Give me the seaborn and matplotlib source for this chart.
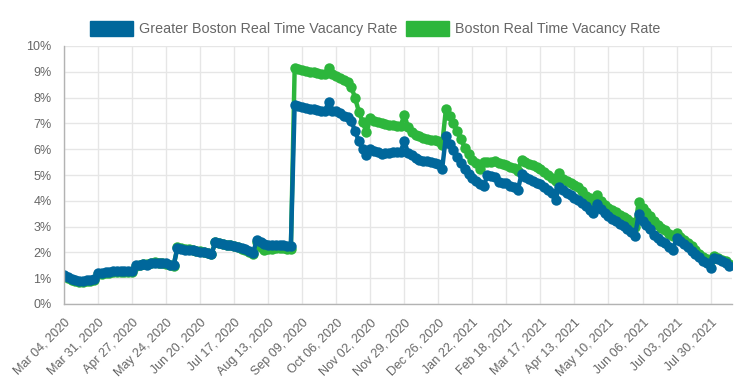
"""
Greater Boston vs Boston real time vacancy rate, Mar 2020 - Aug 2021.
"""

import matplotlib
matplotlib.use("Agg")
import matplotlib.pyplot as plt
from matplotlib.patches import Patch
from matplotlib.ticker import FuncFormatter
import pandas as pd
import seaborn as sns

# Readings every 3 days starting Mar 04, 2020 (percent)
START_DATE = "2020-03-04"
STEP = "3D"

greater_boston = [
    1.12, 1.05, 0.98, 0.94, 0.90, 0.90, 0.92, 0.94, 0.95,
    1.22, 1.22, 1.24, 1.25, 1.27, 1.28, 1.28, 1.27, 1.27,
    1.26, 1.50, 1.52, 1.55, 1.52, 1.57, 1.60, 1.60, 1.58,
    1.57, 1.53, 1.52, 2.16, 2.12, 2.10, 2.10, 2.08, 2.05,
    2.03, 2.00, 1.97, 1.92, 2.40, 2.36, 2.33, 2.30, 2.28,
    2.25, 2.22, 2.18, 2.12, 2.07, 1.98, 2.48, 2.40, 2.32,
    2.28, 2.30, 2.30, 2.28, 2.27, 2.26, 2.24, 7.72, 7.68,
    7.65, 7.60, 7.57, 7.55, 7.53, 7.50, 7.47, 7.84, 7.50,
    7.47, 7.40, 7.30, 7.25, 7.08, 6.70, 6.30, 6.00, 5.78,
    6.00, 5.92, 5.88, 5.82, 5.84, 5.86, 5.88, 5.90, 5.88,
    6.32, 5.85, 5.78, 5.65, 5.58, 5.55, 5.53, 5.52, 5.48,
    5.42, 5.22, 6.50, 6.20, 5.95, 5.70, 5.45, 5.22, 5.05,
    4.90, 4.78, 4.65, 4.57, 5.00, 4.97, 4.92, 4.72, 4.68,
    4.68, 4.58, 4.52, 4.40, 5.04, 4.92, 4.83, 4.75, 4.70,
    4.65, 4.52, 4.42, 4.32, 4.05, 4.55, 4.42, 4.32, 4.23,
    4.12, 4.02, 3.93, 3.78, 3.66, 3.52, 3.88, 3.70, 3.52,
    3.40, 3.30, 3.22, 3.12, 3.02, 2.90, 2.78, 2.62, 3.50,
    3.20, 3.05, 2.90, 2.68, 2.55, 2.45, 2.35, 2.20, 2.08,
    2.55, 2.45, 2.33, 2.20, 2.05, 1.94, 1.82, 1.68, 1.60,
    1.40, 1.80, 1.73, 1.68, 1.58, 1.47,
]

boston = [
    1.08, 1.00, 0.93, 0.88, 0.86, 0.86, 0.88, 0.90, 0.92,
    1.18, 1.18, 1.20, 1.22, 1.24, 1.24, 1.25, 1.24, 1.24,
    1.24, 1.48, 1.50, 1.55, 1.55, 1.60, 1.62, 1.60, 1.57,
    1.55, 1.50, 1.48, 2.20, 2.16, 2.14, 2.12, 2.10, 2.07,
    2.04, 2.01, 1.97, 1.92, 2.40, 2.37, 2.34, 2.30, 2.27,
    2.23, 2.20, 2.15, 2.08, 2.02, 1.95, 2.40, 2.20, 2.10,
    2.12, 2.15, 2.17, 2.17, 2.16, 2.15, 2.13, 9.13, 9.10,
    9.08, 9.02, 9.00, 8.98, 8.95, 8.92, 8.90, 9.13, 8.90,
    8.82, 8.75, 8.68, 8.60, 8.42, 7.97, 7.45, 7.05, 6.65,
    7.22, 7.10, 7.05, 7.00, 6.98, 6.95, 6.92, 6.90, 6.88,
    7.33, 6.85, 6.68, 6.55, 6.50, 6.42, 6.38, 6.36, 6.34,
    6.30, 6.15, 7.55, 7.30, 7.00, 6.70, 6.40, 6.05, 5.80,
    5.60, 5.45, 5.25, 5.50, 5.52, 5.50, 5.54, 5.45, 5.42,
    5.39, 5.32, 5.26, 5.15, 5.58, 5.50, 5.43, 5.37, 5.32,
    5.25, 5.12, 5.00, 4.88, 4.78, 5.06, 4.85, 4.75, 4.68,
    4.60, 4.52, 4.38, 4.20, 4.10, 4.00, 4.22, 4.00, 3.85,
    3.74, 3.64, 3.55, 3.45, 3.38, 3.28, 3.18, 3.00, 3.95,
    3.72, 3.55, 3.40, 3.20, 3.05, 2.95, 2.85, 2.72, 2.62,
    2.74, 2.60, 2.50, 2.38, 2.25, 2.10, 1.95, 1.82, 1.75,
    1.70, 1.86, 1.78, 1.72, 1.65, 1.55,
]

series_labels = [
    "Greater Boston Real Time Vacancy Rate",
    "Boston Real Time Vacancy Rate",
]
series_colors = ["#00679b", "#2db63c"]

tick_dates = pd.date_range(START_DATE, "2021-07-30", freq="27D")
axis_end = "2021-08-16"


def main():
    dates = pd.date_range(START_DATE, periods=len(greater_boston), freq=STEP)
    df = pd.DataFrame({
        "date": dates,
        "greater": greater_boston,
        "boston": boston,
    })

    sns.set_theme(style="white")
    plt.rcParams["font.family"] = ["Liberation Sans", "DejaVu Sans"]

    fig = plt.figure(figsize=(7.5, 3.9), dpi=100)
    ax = fig.add_axes([64 / 750, 86 / 390, 668 / 750, 258 / 390])

    # Boston underneath, Greater Boston on top
    for col, color in [("boston", series_colors[1]), ("greater", series_colors[0])]:
        sns.lineplot(
            data=df, x="date", y=col, ax=ax, color=color,
            linewidth=3.2, marker="o", markersize=7.5,
            markeredgewidth=0, markeredgecolor=color,
        )

    ax.set_xlim(pd.Timestamp(START_DATE), pd.Timestamp(axis_end))
    ax.set_ylim(0, 10)
    ax.set_yticks(range(0, 11))
    ax.yaxis.set_major_formatter(FuncFormatter(lambda v, _: f"{v:.0f}%"))
    ax.set_xticks(tick_dates)
    ax.set_xticklabels(
        [d.strftime("%b %d, %Y") for d in tick_dates],
        rotation=45, ha="right", rotation_mode="anchor",
    )
    ax.set_xlabel("")
    ax.set_ylabel("")

    ax.grid(True, color="#e6e6e6", linewidth=1)
    ax.set_axisbelow(True)
    for side in ["top", "right"]:
        ax.spines[side].set_visible(False)
    for side in ["left", "bottom"]:
        ax.spines[side].set_color("#b3b3b3")
        ax.spines[side].set_linewidth(1)
    ax.tick_params(axis="both", colors="#e6e6e6", length=7, width=1,
                   labelcolor="#666666", labelsize=9, pad=2)

    handles = [Patch(facecolor=c, edgecolor=c) for c in series_colors]
    fig.legend(
        handles, series_labels, loc="center", bbox_to_anchor=(0.5, 0.926),
        ncol=2, frameon=False, fontsize=10.3, labelcolor="#666666",
        handlelength=3.0, handleheight=1.15, handletextpad=0.42,
        columnspacing=0.63,
    )

    fig.savefig("out.png", dpi=100)


if __name__ == "__main__":
    main()
